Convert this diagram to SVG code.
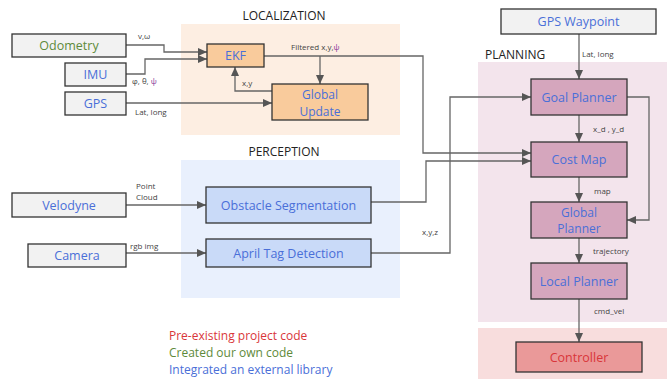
<svg xmlns="http://www.w3.org/2000/svg" width="667" height="379" viewBox="0 0 667 379">
<style>
text{font-family:"Open Sans","Noto Sans","Liberation Sans",sans-serif}
.title{font-size:12px;fill:#222;text-anchor:middle}
.node{stroke:#333;stroke-width:1.3}
.in{fill:#f2f2f2}
.loc{fill:#f9cb9c}
.per{fill:#c9daf8}
.pl{fill:#d5a6bd}
.ctl{fill:#ea9999}
.nt{font-size:12.5px;text-anchor:middle;dominant-baseline:central;fill:#4a6fd8}
.two{font-size:12px}
.green{fill:#5e8a3a}
.red{fill:#d9363a}
.lbl{font-size:8px;fill:#444}
.edge{fill:none;stroke:#666;stroke-width:1.3}
.leg{font-size:12px}
</style>
<defs>
<marker id="ah" markerUnits="userSpaceOnUse" markerWidth="10" markerHeight="8" refX="9" refY="4" orient="auto">
<path d="M0,0 L9,4 L0,8 z" fill="#555"/>
</marker>
</defs>
<g id="backgrounds">
<rect x="181" y="24" width="219" height="111" fill="#fdeee2"/>
<rect x="181" y="160" width="219" height="138" fill="#e9f0fd"/>
<rect x="478" y="62" width="189" height="260" fill="#f3e4ec"/>
<rect x="478" y="328" width="189" height="51" fill="#f8dddd"/>
<text class="title" x="284" y="20">LOCALIZATION</text>
<text class="title" x="284" y="156">PERCEPTION</text>
<text class="title" x="485" y="59" style="text-anchor:start">PLANNING</text>
</g>
<g id="connectors">
<path class="edge" d="M126,45 H164 V52 H207" marker-end="url(#ah)"/>
<path class="edge" d="M126,74 H145 V59 H207" marker-end="url(#ah)"/>
<path class="edge" d="M126,103 H272" marker-end="url(#ah)"/>
<path class="edge" d="M272,91 H235 V67" marker-end="url(#ah)"/>
<path class="edge" d="M264,56 H423 V153 H531" marker-end="url(#ah)"/>
<path class="edge" d="M320,56 V84" marker-end="url(#ah)"/>
<path class="edge" d="M126,205 H206" marker-end="url(#ah)"/>
<path class="edge" d="M126,253 H206" marker-end="url(#ah)"/>
<path class="edge" d="M371,202 H426 V161 H531" marker-end="url(#ah)"/>
<path class="edge" d="M371,253 H450 V97 H531" marker-end="url(#ah)"/>
<path class="edge" d="M579,34 V79" marker-end="url(#ah)"/>
<path class="edge" d="M579,115 V142" marker-end="url(#ah)"/>
<path class="edge" d="M579,177 V202" marker-end="url(#ah)"/>
<path class="edge" d="M579,238 V263" marker-end="url(#ah)"/>
<path class="edge" d="M579,299 V342" marker-end="url(#ah)"/>
<path class="edge" d="M627,97 H649 V220 H627" marker-end="url(#ah)"/>
<text class="lbl" x="138" y="39">v,ω</text>
<text class="lbl" x="132" y="84">φ, θ, <tspan fill="#8a3a9a">ψ</tspan></text>
<text class="lbl" x="135" y="115">Lat, long</text>
<text class="lbl" x="242" y="86">x,y</text>
<text class="lbl" x="291" y="50">Filtered x,y,<tspan fill="#8a3a9a">ψ</tspan></text>
<text class="lbl" x="136" y="189">Point</text>
<text class="lbl" x="136" y="200">Cloud</text>
<text class="lbl" x="130" y="249">rgb img</text>
<text class="lbl" x="422" y="235">x,y,z</text>
<text class="lbl" x="582" y="57">Lat, long</text>
<text class="lbl" x="593" y="132">x_d , y_d</text>
<text class="lbl" x="594" y="194">map</text>
<text class="lbl" x="593" y="254">trajectory</text>
<text class="lbl" x="594" y="314">cmd_vel</text>
</g>
<g id="odometry"><rect class="node in" x="12" y="34" width="114" height="23"/><text class="nt green" x="69" y="45.5">Odometry</text></g>
<g id="imu"><rect class="node in" x="65" y="63" width="61" height="23"/><text class="nt" x="95.5" y="74.5">IMU</text></g>
<g id="gps"><rect class="node in" x="65" y="92" width="61" height="23"/><text class="nt" x="95.5" y="103.5">GPS</text></g>
<g id="ekf"><rect class="node loc" x="207" y="44" width="57" height="23"/><text class="nt" x="235.5" y="55.5">EKF</text></g>
<g id="global-update"><rect class="node loc" x="272" y="84" width="96" height="36"/><text class="nt two" x="320" y="94.5">Global</text><text class="nt two" x="320" y="111">Update</text></g>
<g id="velodyne"><rect class="node in" x="12" y="193" width="114" height="24"/><text class="nt" x="69" y="205">Velodyne</text></g>
<g id="camera"><rect class="node in" x="28" y="244" width="98" height="23"/><text class="nt" x="77" y="255.5">Camera</text></g>
<g id="obstacle-segmentation"><rect class="node per" x="206" y="187" width="165" height="36"/><text class="nt" x="288.5" y="205">Obstacle Segmentation</text></g>
<g id="april-tag-detection"><rect class="node per" x="206" y="239" width="165" height="28"/><text class="nt" x="288.5" y="253">April Tag Detection</text></g>
<g id="gps-waypoint"><rect class="node in" x="501" y="9" width="155" height="25"/><text class="nt" x="578.5" y="21.5">GPS Waypoint</text></g>
<g id="goal-planner"><rect class="node pl" x="531" y="79" width="96" height="36"/><text class="nt" x="579" y="97">Goal Planner</text></g>
<g id="cost-map"><rect class="node pl" x="531" y="142" width="96" height="35"/><text class="nt" x="579" y="159.5">Cost Map</text></g>
<g id="global-planner"><rect class="node pl" x="531" y="202" width="96" height="36"/><text class="nt two" x="579" y="212">Global</text><text class="nt two" x="579" y="228.5">Planner</text></g>
<g id="local-planner"><rect class="node pl" x="531" y="263" width="96" height="36"/><text class="nt" x="579" y="281">Local Planner</text></g>
<g id="controller"><rect class="node ctl" x="516" y="342" width="126" height="30"/><text class="nt red" x="579" y="357">Controller</text></g>
<g id="legend">
<text class="leg" x="169" y="340" fill="#d9363a">Pre-existing project code</text>
<text class="leg" x="169" y="357" fill="#5e8a3a">Created our own code</text>
<text class="leg" x="169" y="374" fill="#4a6fd8">Integrated an external library</text>
</g>
</svg>
